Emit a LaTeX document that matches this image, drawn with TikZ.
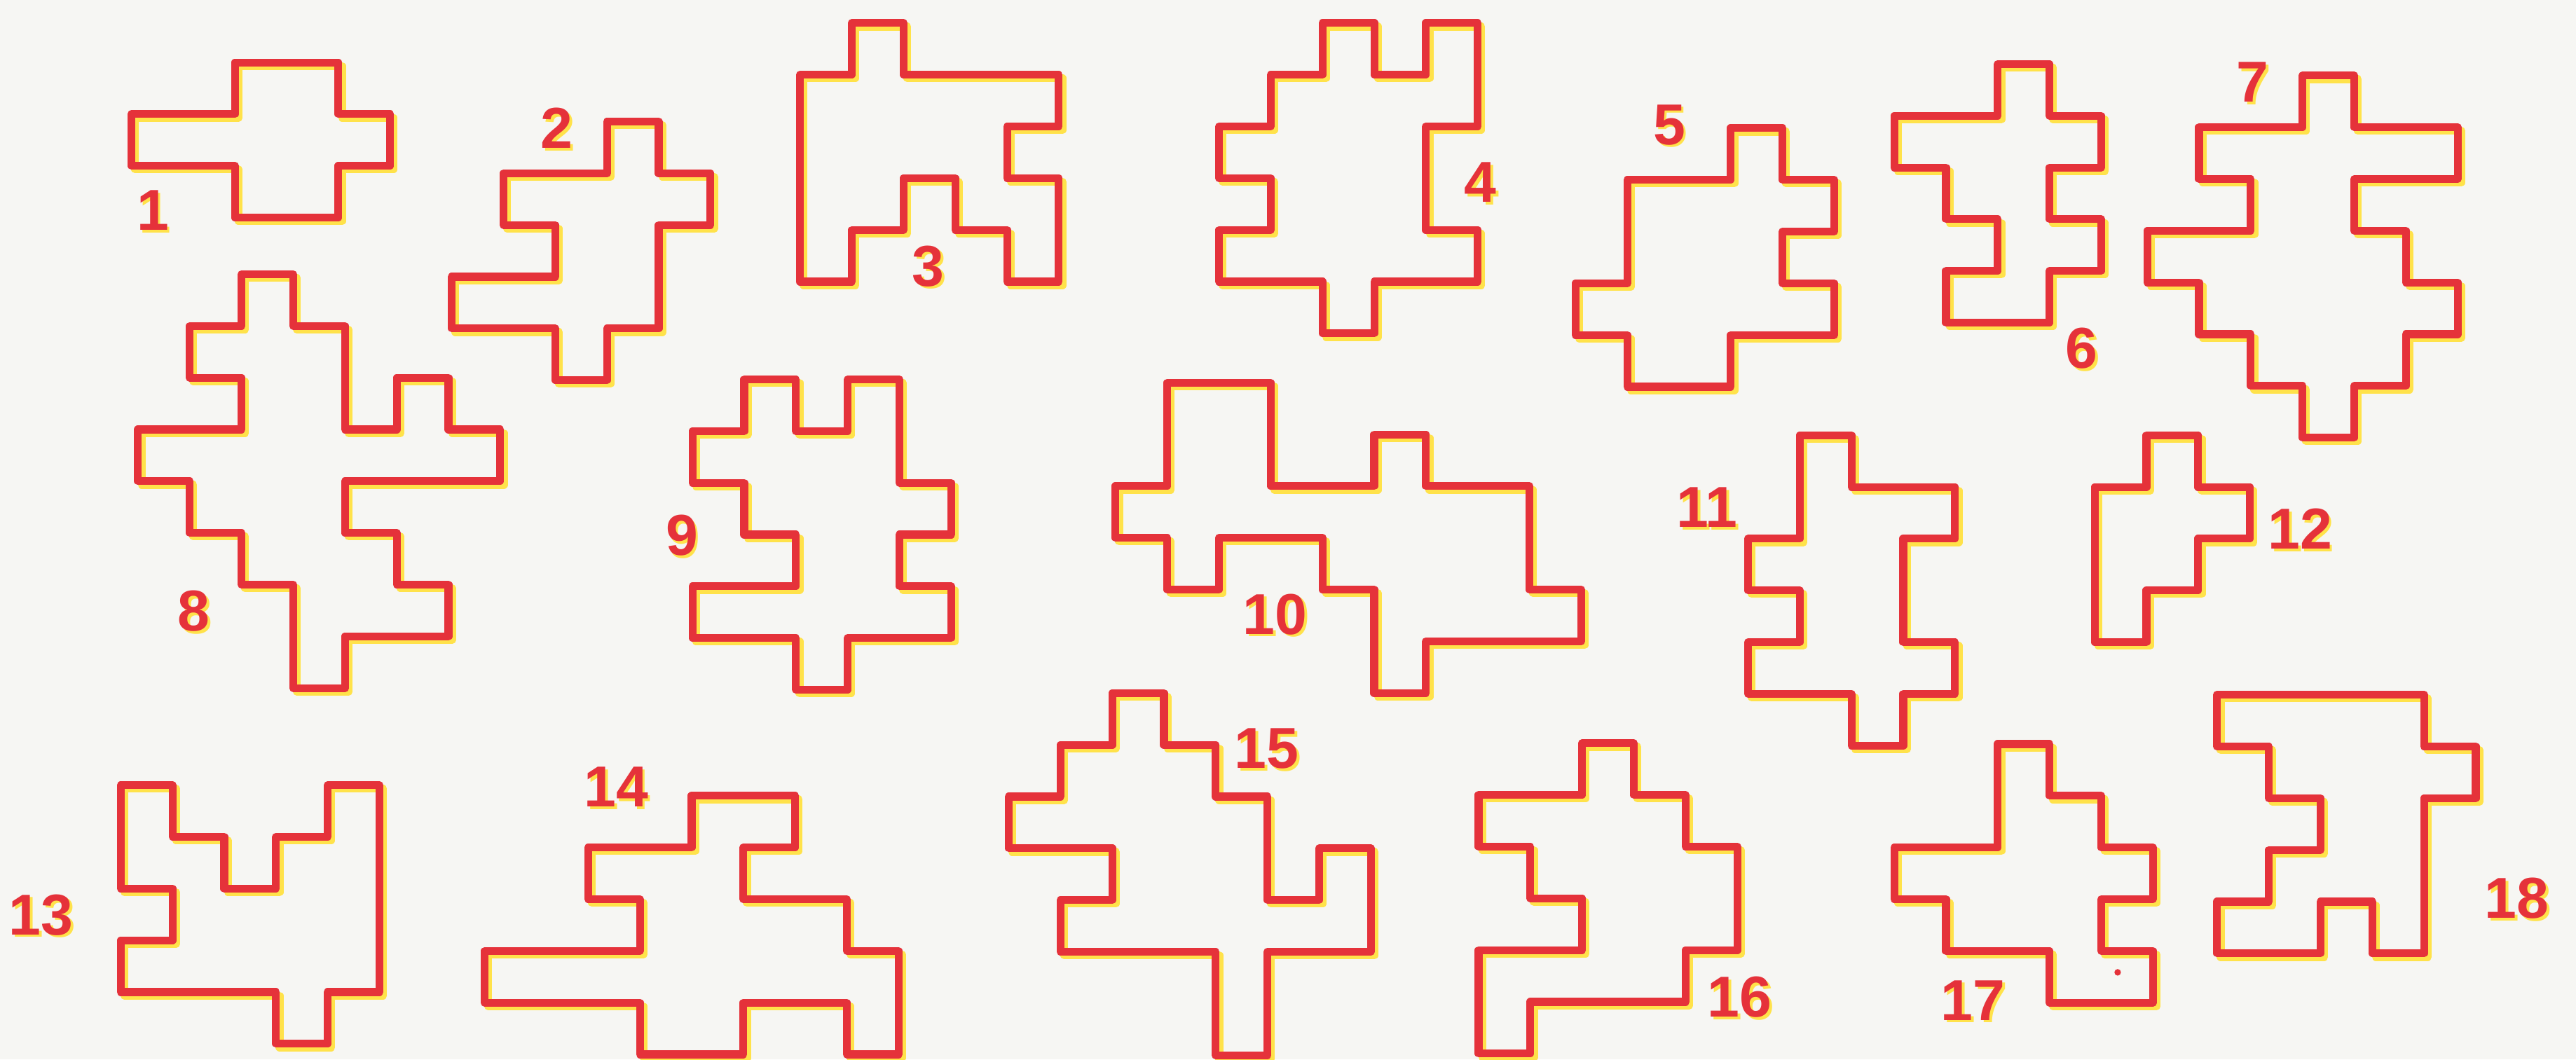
\documentclass[tikz,border=0pt]{standalone}
\usepackage{fontspec}
\setmainfont{Liberation Sans}
\definecolor{ink}{HTML}{E5323A}
\definecolor{misreg}{HTML}{FFE24A}
\definecolor{paper}{HTML}{F6F6F3}
\tikzset{
  outline/.style={draw=ink, line width=2.7pt, line join=round},
  offprint/.style={draw=misreg, line width=2.7pt, line join=round},
  num/.style={text=ink, inner sep=0pt, font=\fontsize{20}{20}\selectfont\bfseries},
  numback/.style={num, text=misreg}
}
% one piece: corner of its grid (x,y), then its outline in grid steps
\newcommand{\piece}[3]{%
  \begin{scope}[shift={(#1,#2)}, x=0.63cm, y=-0.63cm]
    \draw[offprint, shift={(0.07,0.07)}] #3 -- cycle;
    \draw[outline] #3 -- cycle;
  \end{scope}}
\newcommand{\piecenum}[4]{%
  \node[numback] (#1s) at (#2+1.6,#3+1.6) {#4};
  \node[num] (#1) at (#2,#3) {#4};}

\begin{document}
\begin{tikzpicture}[x=0.02cm, y=-0.02cm]
  \fill[paper] (0,0) rectangle (1568,645);
  \useasboundingbox (0,0) rectangle (1568,645);

  % top row
  \piece{80}{38}{(2,0) -- (4,0) -- (4,1) -- (5,1) -- (5,2) -- (4,2) -- (4,3) -- (2,3) -- (2,2) -- (0,2) -- (0,1) -- (2,1)}
  \piece{275}{74}{(3,0) -- (4,0) -- (4,1) -- (5,1) -- (5,2) -- (4,2) -- (4,4) -- (3,4) -- (3,5) -- (2,5) -- (2,4) -- (0,4) -- (0,3) -- (2,3) -- (2,2) -- (1,2) -- (1,1) -- (3,1)}
  \piece{487}{14}{(1,0) -- (2,0) -- (2,1) -- (5,1) -- (5,2) -- (4,2) -- (4,3) -- (5,3) -- (5,5) -- (4,5) -- (4,4) -- (3,4) -- (3,3) -- (2,3) -- (2,4) -- (1,4) -- (1,5) -- (0,5) -- (0,1) -- (1,1)}
  \piece{742}{14}{(2,0) -- (3,0) -- (3,1) -- (4,1) -- (4,0) -- (5,0) -- (5,2) -- (4,2) -- (4,4) -- (5,4) -- (5,5) -- (3,5) -- (3,6) -- (2,6) -- (2,5) -- (0,5) -- (0,4) -- (1,4) -- (1,3) -- (0,3) -- (0,2) -- (1,2) -- (1,1) -- (2,1)}
  \piece{959}{78}{(3,0) -- (4,0) -- (4,1) -- (5,1) -- (5,2) -- (4,2) -- (4,3) -- (5,3) -- (5,4) -- (3,4) -- (3,5) -- (1,5) -- (1,4) -- (0,4) -- (0,3) -- (1,3) -- (1,1) -- (3,1)}
  \piece{1153}{39}{(2,0) -- (3,0) -- (3,1) -- (4,1) -- (4,2) -- (3,2) -- (3,3) -- (4,3) -- (4,4) -- (3,4) -- (3,5) -- (1,5) -- (1,4) -- (2,4) -- (2,3) -- (1,3) -- (1,2) -- (0,2) -- (0,1) -- (2,1)}
  \piece{1307}{46}{(3,0) -- (4,0) -- (4,1) -- (6,1) -- (6,2) -- (4,2) -- (4,3) -- (5,3) -- (5,4) -- (6,4) -- (6,5) -- (5,5) -- (5,6) -- (4,6) -- (4,7) -- (3,7) -- (3,6) -- (2,6) -- (2,5) -- (1,5) -- (1,4) -- (0,4) -- (0,3) -- (2,3) -- (2,2) -- (1,2) -- (1,1) -- (3,1)}

  % middle row
  \piece{84}{167}{(2,0) -- (3,0) -- (3,1) -- (4,1) -- (4,3) -- (5,3) -- (5,2) -- (6,2) -- (6,3) -- (7,3) -- (7,4) -- (4,4) -- (4,5) -- (5,5) -- (5,6) -- (6,6) -- (6,7) -- (4,7) -- (4,8) -- (3,8) -- (3,6) -- (2,6) -- (2,5) -- (1,5) -- (1,4) -- (0,4) -- (0,3) -- (2,3) -- (2,2) -- (1,2) -- (1,1) -- (2,1)}
  \piece{421.5}{231}{(1,0) -- (2,0) -- (2,1) -- (3,1) -- (3,0) -- (4,0) -- (4,2) -- (5,2) -- (5,3) -- (4,3) -- (4,4) -- (5,4) -- (5,5) -- (3,5) -- (3,6) -- (2,6) -- (2,5) -- (0,5) -- (0,4) -- (2,4) -- (2,3) -- (1,3) -- (1,2) -- (0,2) -- (0,1) -- (1,1)}
  \piece{679}{233}{(1,0) -- (3,0) -- (3,2) -- (5,2) -- (5,1) -- (6,1) -- (6,2) -- (8,2) -- (8,4) -- (9,4) -- (9,5) -- (6,5) -- (6,6) -- (5,6) -- (5,4) -- (4,4) -- (4,3) -- (2,3) -- (2,4) -- (1,4) -- (1,3) -- (0,3) -- (0,2) -- (1,2)}
  \piece{1064}{265}{(1,0) -- (2,0) -- (2,1) -- (4,1) -- (4,2) -- (3,2) -- (3,4) -- (4,4) -- (4,5) -- (3,5) -- (3,6) -- (2,6) -- (2,5) -- (0,5) -- (0,4) -- (1,4) -- (1,3) -- (0,3) -- (0,2) -- (1,2)}
  \piece{1275}{265}{(1,0) -- (2,0) -- (2,1) -- (3,1) -- (3,2) -- (2,2) -- (2,3) -- (1,3) -- (1,4) -- (0,4) -- (0,1) -- (1,1)}

  % bottom row
  \piece{73.5}{478}{(0,0) -- (1,0) -- (1,1) -- (2,1) -- (2,2) -- (3,2) -- (3,1) -- (4,1) -- (4,0) -- (5,0) -- (5,4) -- (4,4) -- (4,5) -- (3,5) -- (3,4) -- (0,4) -- (0,3) -- (1,3) -- (1,2) -- (0,2)}
  \piece{295}{484.5}{(4,0) -- (6,0) -- (6,1) -- (5,1) -- (5,2) -- (7,2) -- (7,3) -- (8,3) -- (8,5) -- (7,5) -- (7,4) -- (5,4) -- (5,5) -- (3,5) -- (3,4) -- (0,4) -- (0,3) -- (3,3) -- (3,2) -- (2,2) -- (2,1) -- (4,1)}
  \piece{614}{422}{(2,0) -- (3,0) -- (3,1) -- (4,1) -- (4,2) -- (5,2) -- (5,4) -- (6,4) -- (6,3) -- (7,3) -- (7,5) -- (5,5) -- (5,7) -- (4,7) -- (4,5) -- (1,5) -- (1,4) -- (2,4) -- (2,3) -- (0,3) -- (0,2) -- (1,2) -- (1,1) -- (2,1)}
  \piece{900}{452.5}{(2,0) -- (3,0) -- (3,1) -- (4,1) -- (4,2) -- (5,2) -- (5,4) -- (4,4) -- (4,5) -- (1,5) -- (1,6) -- (0,6) -- (0,4) -- (2,4) -- (2,3) -- (1,3) -- (1,2) -- (0,2) -- (0,1) -- (2,1)}
  \piece{1153}{453}{(2,0) -- (3,0) -- (3,1) -- (4,1) -- (4,2) -- (5,2) -- (5,3) -- (4,3) -- (4,4) -- (5,4) -- (5,5) -- (3,5) -- (3,4) -- (1,4) -- (1,3) -- (0,3) -- (0,2) -- (2,2)}
  \piece{1349.5}{423}{(0,0) -- (4,0) -- (4,1) -- (5,1) -- (5,2) -- (4,2) -- (4,5) -- (3,5) -- (3,4) -- (2,4) -- (2,5) -- (0,5) -- (0,4) -- (1,4) -- (1,3) -- (2,3) -- (2,2) -- (1,2) -- (1,1) -- (0,1)}
  \fill[ink] (1289,592) circle (2);

  % numbers
  \piecenum{n1}{93}{128}{1}
  \piecenum{n2}{339}{78}{2}
  \piecenum{n3}{565}{162}{3}
  \piecenum{n4}{901}{111}{4}
  \piecenum{n5}{1016}{76}{5}
  \piecenum{n6}{1267}{212}{6}
  \piecenum{n7}{1371}{50}{7}
  \piecenum{n8}{118}{372}{8}
  \piecenum{n9}{415}{326}{9}
  \piecenum{n10}{776}{374}{10}
  \piecenum{n11}{1039}{309}{11}
  \piecenum{n12}{1400}{322}{12}
  \piecenum{n13}{25}{557}{13}
  \piecenum{n14}{375}{479}{14}
  \piecenum{n15}{771}{456}{15}
  \piecenum{n16}{1059}{607}{16}
  \piecenum{n17}{1201}{609}{17}
  \piecenum{n18}{1532}{547}{18}
\end{tikzpicture}
\end{document}
